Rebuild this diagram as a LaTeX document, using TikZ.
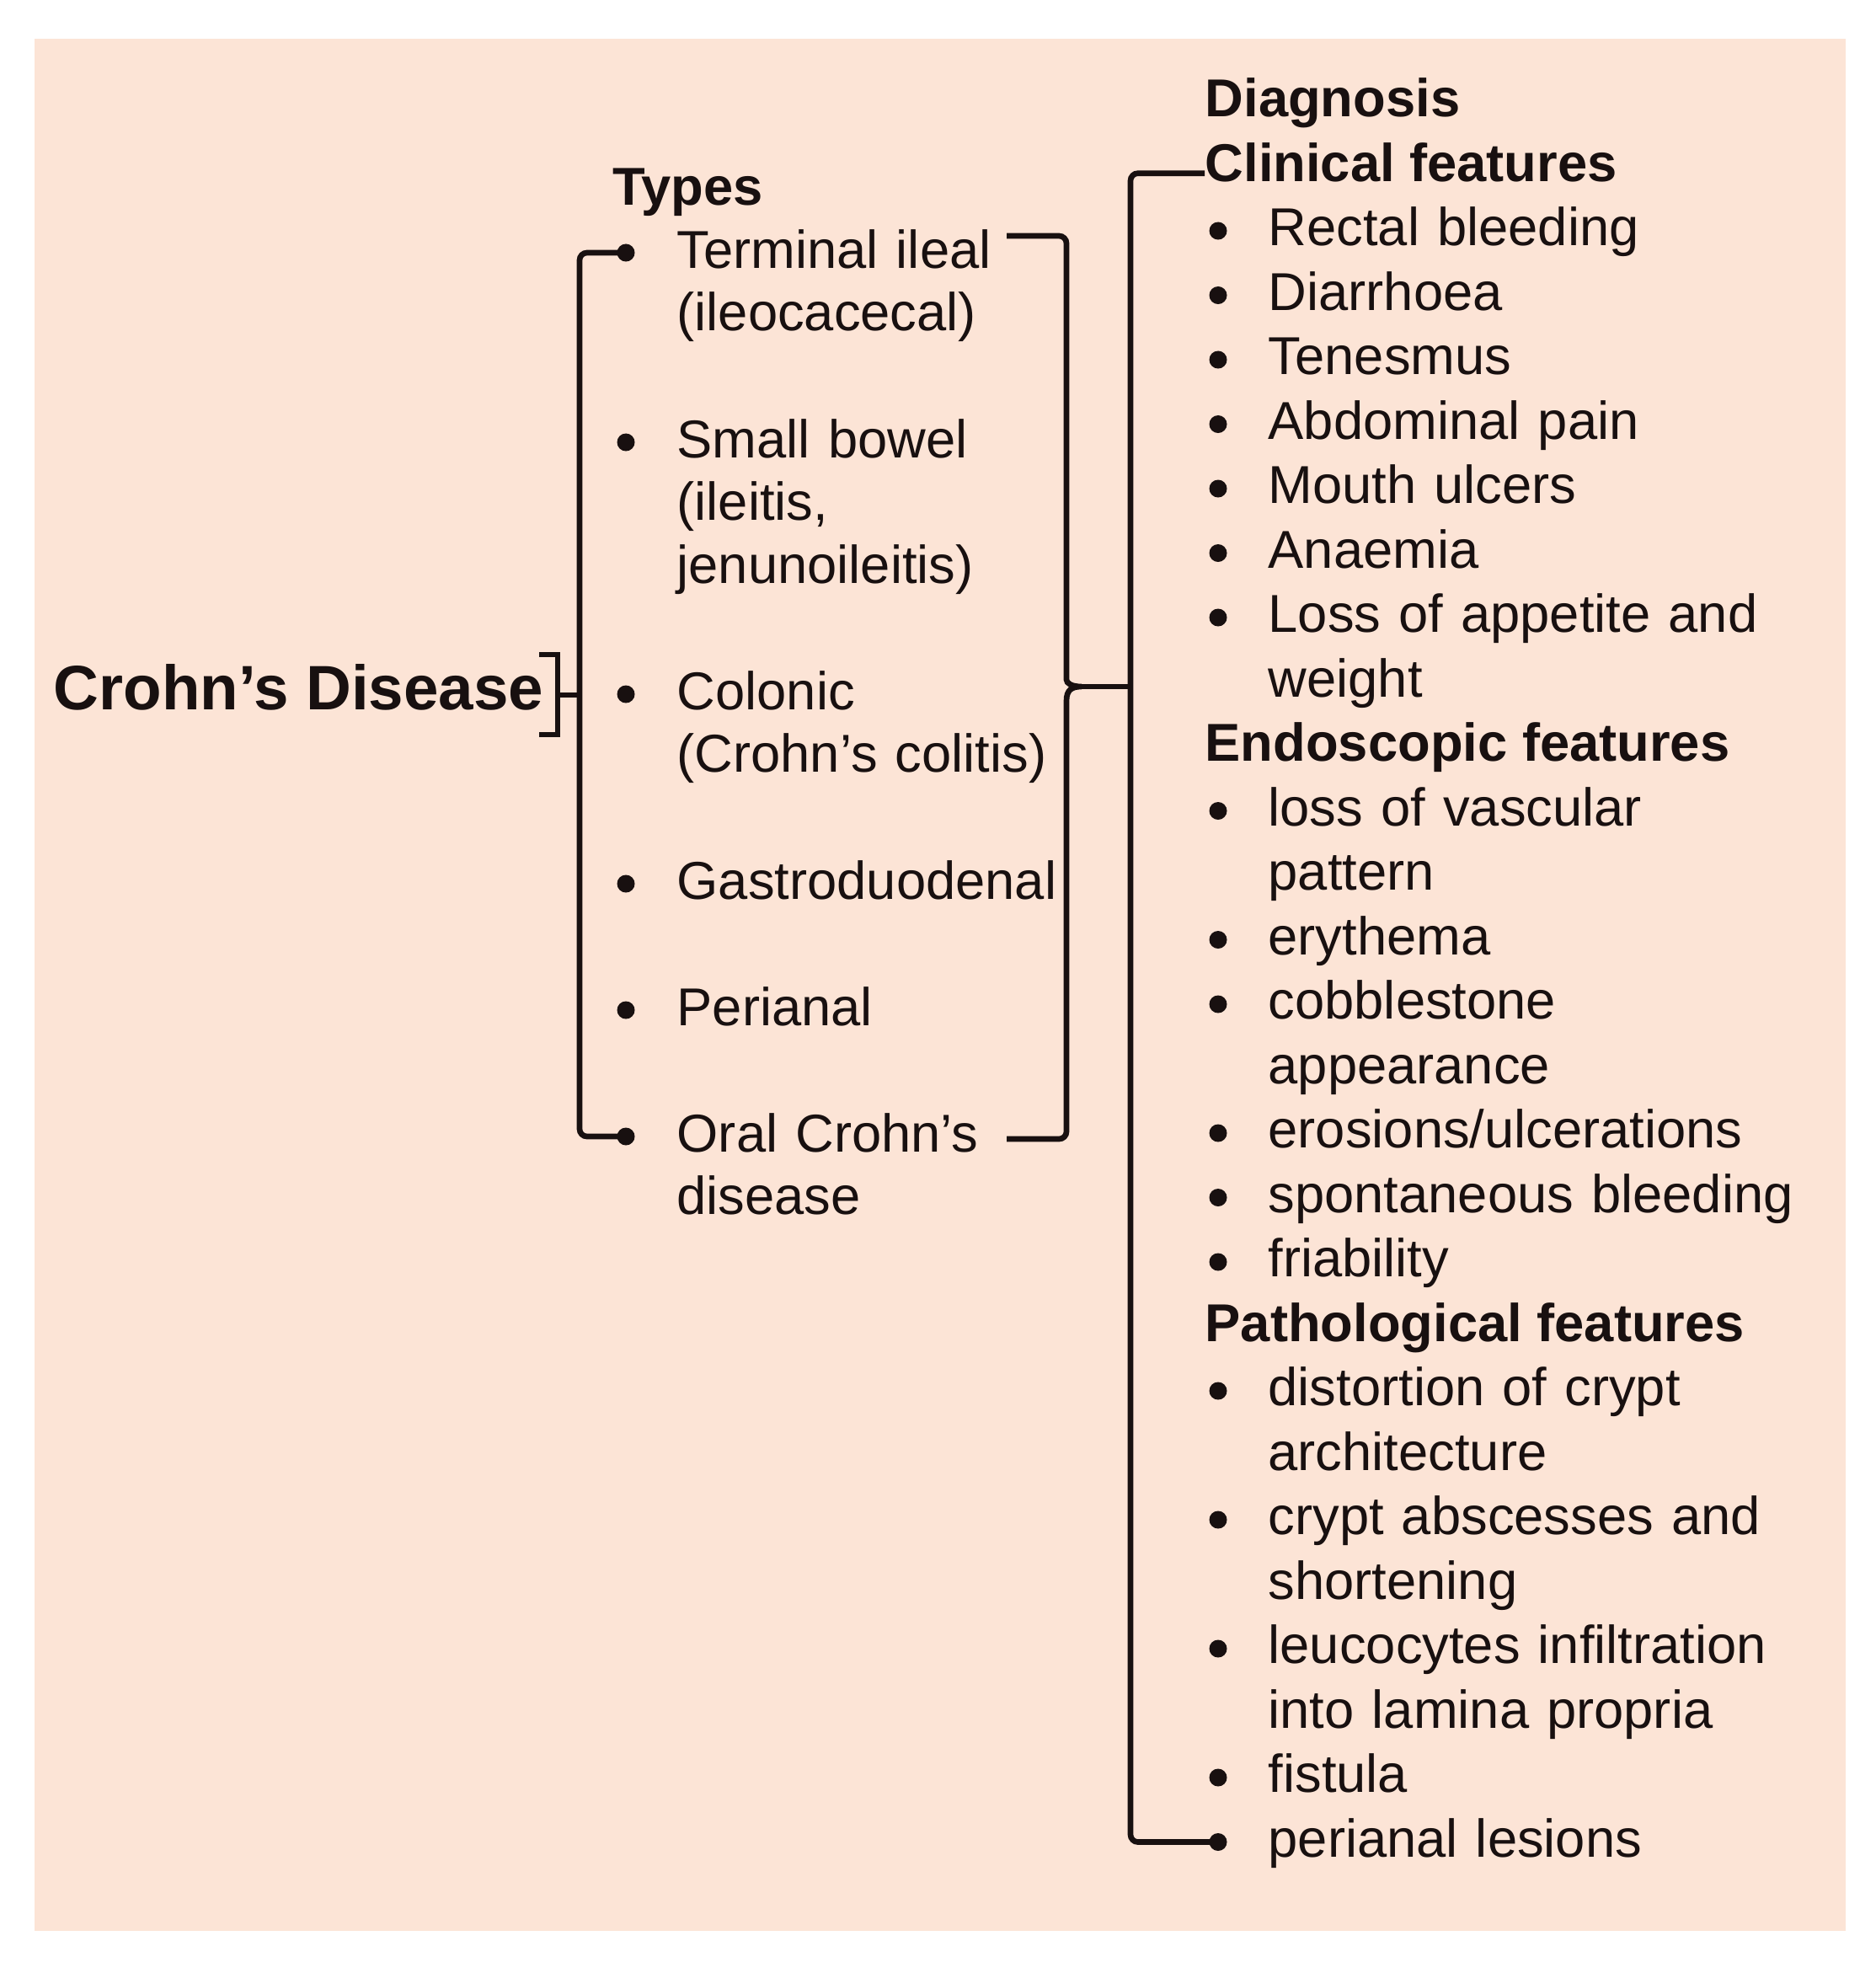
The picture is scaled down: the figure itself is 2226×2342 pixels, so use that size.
\documentclass[tikz,border=0pt]{standalone}
\usepackage{fontspec}
\setmainfont{Liberation Sans}
\usetikzlibrary{positioning}
\definecolor{peach}{RGB}{252,228,214}
\definecolor{ink}{RGB}{24,16,16}
\tikzset{
  bline/.style={line width=1.9pt, draw=ink},
  dot/.style={circle, fill=ink, inner sep=0pt, minimum size=0.21cm},
  title/.style={anchor=base west, inner sep=0pt, text=ink, font=\fontsize{21.2}{25}\selectfont\bfseries},
  head/.style={anchor=base west, inner sep=0pt, text=ink, font=\fontsize{18}{21.8}\selectfont\bfseries},
  entryL/.style={anchor=base west, inner sep=0pt, text=ink, align=left, text width=5cm, font=\fontsize{18}{21.31}\selectfont},
  entryR/.style={anchor=base west, inner sep=0pt, text=ink, align=left, text width=6.6cm, font=\fontsize{18}{21.77}\selectfont}
}
\begin{document}
\begin{tikzpicture}[x=0.01cm, y=-0.01cm]
  \useasboundingbox (0,0) rectangle (2226,2342);
  \fill[peach] (41,46) rectangle (2191,2292);

  % disease and types
  \node[title] (crohn) at (63,842) {Crohn's Disease};
  \node[head] (types) at (727,243) {Types};
  \node[entryL] (terminal) at (803,318) {Terminal ileal\\(ileocacecal)};
  \node[entryL] (smallbowel) at (803,543) {Small bowel\\(ileitis,\\jenunoileitis)};
  \node[entryL] (colonic) at (803,842) {Colonic\\(Crohn's colitis)};
  \node[entryL] (gastro) at (803,1067) {Gastroduodenal};
  \node[entryL] (perianal) at (803,1217) {Perianal};
  \node[entryL] (oral) at (803,1367) {Oral Crohn's\\disease};
  \node[dot] (bterminal) at (743,300) {};
  \node[dot] (bsmallbowel) at (743,525) {};
  \node[dot] (bcolonic) at (743,824) {};
  \node[dot] (bgastro) at (743,1049) {};
  \node[dot] (bperianal) at (743,1199) {};
  \node[dot] (boral) at (743,1349) {};

  % diagnosis
  \node[head] (diagnosis) at (1430,138.5) {Diagnosis};
  \node[head] (clinical) at (1430,215) {Clinical features};
  \node[entryR] (rectal) at (1505,291.5) {Rectal bleeding};
  \node[entryR] (diarrhoea) at (1505,368) {Diarrhoea};
  \node[entryR] (tenesmus) at (1505,444.5) {Tenesmus};
  \node[entryR] (abdominal) at (1505,521) {Abdominal pain};
  \node[entryR] (mouth) at (1505,597.5) {Mouth ulcers};
  \node[entryR] (anaemia) at (1505,674) {Anaemia};
  \node[entryR] (appetite) at (1505,750.5) {Loss of appetite and\\weight};
  \node[head] (endoscopic) at (1430,903.5) {Endoscopic features};
  \node[entryR] (vascular) at (1505,980) {loss of vascular\\pattern};
  \node[entryR] (erythema) at (1505,1133) {erythema};
  \node[entryR] (cobble) at (1505,1209.5) {cobblestone\\appearance};
  \node[entryR] (erosions) at (1505,1362.5) {erosions/ulcerations};
  \node[entryR] (spontaneous) at (1505,1439) {spontaneous bleeding};
  \node[entryR] (friability) at (1505,1515.5) {friability};
  \node[head] (pathological) at (1430,1592) {Pathological features};
  \node[entryR] (distortion) at (1505,1668.5) {distortion of crypt\\architecture};
  \node[entryR] (abscesses) at (1505,1821.5) {crypt abscesses and\\shortening};
  \node[entryR] (leucocytes) at (1505,1974.5) {leucocytes infiltration\\into lamina propria};
  \node[entryR] (fistula) at (1505,2127.5) {fistula};
  \node[entryR] (lesions) at (1505,2204) {perianal lesions};
  \node[dot] (brectal) at (1446,274) {};
  \node[dot] (bdiarrhoea) at (1446,350.5) {};
  \node[dot] (btenesmus) at (1446,427) {};
  \node[dot] (babdominal) at (1446,503.5) {};
  \node[dot] (bmouth) at (1446,580) {};
  \node[dot] (banaemia) at (1446,656.5) {};
  \node[dot] (bappetite) at (1446,733) {};
  \node[dot] (bvascular) at (1446,962.5) {};
  \node[dot] (berythema) at (1446,1115.5) {};
  \node[dot] (bcobble) at (1446,1192) {};
  \node[dot] (berosions) at (1446,1345) {};
  \node[dot] (bspontaneous) at (1446,1421.5) {};
  \node[dot] (bfriability) at (1446,1498) {};
  \node[dot] (bdistortion) at (1446,1651) {};
  \node[dot] (babscesses) at (1446,1804) {};
  \node[dot] (bleucocytes) at (1446,1957) {};
  \node[dot] (bfistula) at (1446,2110) {};
  \node[dot] (blesions) at (1446,2186.5) {};

  % brackets
  \coordinate (brtop) at (640,777);
  \coordinate (brbot) at (640,872);
  \coordinate (djoin) at (662,825);
  \coordinate (tjoin) at (688,825);
  \coordinate (tytop) at (1195,280);
  \coordinate (tybot) at (1195,1352);
  \coordinate (cusp) at (1284,815);
  \coordinate (dj) at (1342,815);
  \draw[bline] (brtop) -| (djoin) |- (brbot);
  \draw[bline] (djoin) -- (tjoin);
  \draw[bline, rounded corners=2.5pt] (bterminal.center) -| (tjoin) |- (boral.center);
  \draw[bline, rounded corners=2.5pt] (tytop) -- (1266,280) -- (1266,798) [sharp corners]
    .. controls (1266,811) and (1272,815) .. (cusp)
    .. controls (1272,815) and (1266,819) .. (1266,832) [rounded corners=2.5pt]
    -- (1266,1352) -- (tybot);
  \draw[bline] (cusp) -- (dj);
  \draw[bline, rounded corners=2.5pt] (clinical.mid west) -| (dj) |- (blesions.center);
\end{tikzpicture}
\end{document}
